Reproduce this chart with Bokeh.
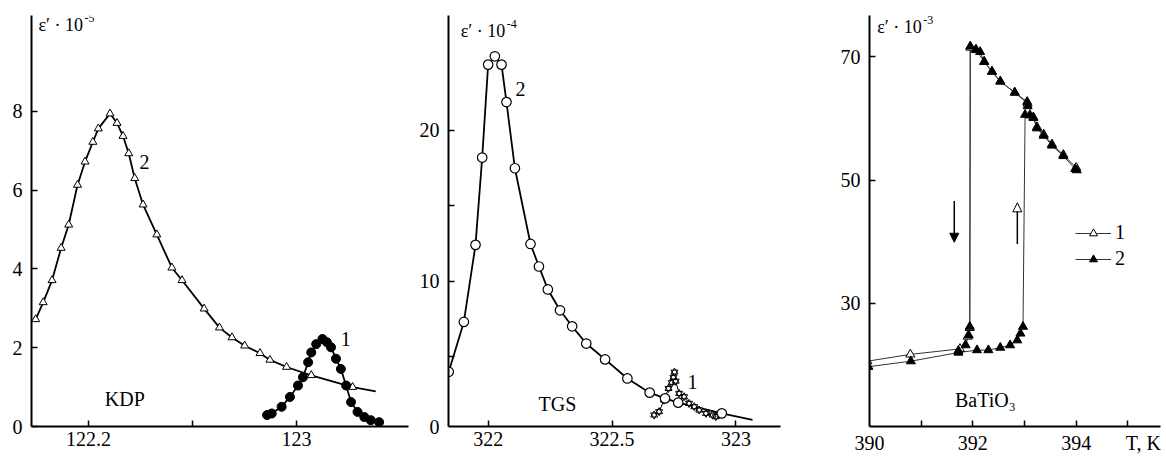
from bokeh.plotting import figure
from bokeh.layouts import row
from bokeh.models import (Range1d, FixedTicker, Label, Arrow, NormalHead, Legend,
                          LegendItem, CustomJSTickFormatter)
from bokeh.embed import file_html
from bokeh.resources import INLINE

# ---------------- data ----------------
# KDP, curve 2 (open triangles); last point only ends the line
kdp2_T = [121.997, 122.026, 122.060, 122.095, 122.124, 122.158, 122.187, 122.217, 122.238,
          122.283, 122.310, 122.333, 122.355, 122.378, 122.410, 122.463, 122.521, 122.560,
          122.645, 122.704, 122.752, 122.801, 122.860, 122.898, 122.962, 123.057, 123.216,
          123.305]
kdp2_e = [2.72, 3.15, 3.71, 4.53, 5.12, 6.13, 6.72, 7.22, 7.56,
          7.94, 7.70, 7.37, 6.93, 6.30, 5.63, 4.87, 4.03, 3.71,
          2.99, 2.51, 2.26, 2.05, 1.86, 1.69, 1.51, 1.30, 1.00,
          0.89]
# KDP, curve 1 (filled circles)
kdp1_T = [122.887, 122.905, 122.943, 122.975, 123.006, 123.025, 123.045, 123.057, 123.076,
          123.100, 123.117, 123.133, 123.152, 123.171, 123.191, 123.210, 123.235, 123.261,
          123.286, 123.318]
kdp1_e = [0.29, 0.33, 0.50, 0.75, 1.04, 1.25, 1.63, 1.88, 2.09,
          2.22, 2.14, 2.01, 1.72, 1.46, 1.04, 0.62, 0.37, 0.24,
          0.16, 0.11]

# TGS, curve 2 (open circles); last point only ends the line
tgs2_T = [321.841, 321.902, 321.949, 321.976, 322.000, 322.027, 322.054, 322.074, 322.108,
          322.171, 322.205, 322.241, 322.290, 322.339, 322.396, 322.472, 322.562, 322.652,
          322.714, 322.767, 322.943, 323.067]
tgs2_e = [4.02, 7.32, 12.42, 18.2, 24.35, 24.9, 24.35, 21.87, 17.49,
          12.48, 10.99, 9.47, 8.09, 7.03, 5.89, 4.84, 3.58, 2.64,
          2.26, 1.98, 1.27, 0.84]
# TGS, curve 1 (small triangles)
tgs1_T = [322.670, 322.690, 322.710, 322.728, 322.741, 322.748, 322.752, 322.757, 322.771,
          322.791, 322.811, 322.832, 322.852, 322.879, 322.906, 322.919]
tgs1_e = [1.16, 1.38, 2.15, 2.92, 3.30, 3.65, 4.00, 3.40, 2.59,
          2.37, 1.93, 1.71, 1.49, 1.27, 1.16, 1.05]

# BaTiO3, series 1 (open triangles, cooling run)
bt1_T = [394.00, 393.75, 393.53, 393.37, 393.24, 393.17, 393.06, 392.81, 392.53, 392.37,
         392.22, 392.06, 391.95, 391.94, 391.90, 391.75, 390.79, 389.96]
bt1_e = [52.0, 54.1, 55.8, 57.4, 58.6, 60.2, 62.4, 64.2, 66.0, 67.6,
         69.2, 71.1, 71.5, 26.0, 24.6, 22.6, 21.7, 20.6]
# BaTiO3, series 2 (filled triangles), heating run
bt2h_T = [389.98, 390.80, 391.72, 392.08, 392.30, 392.53, 392.72, 392.86, 392.92, 392.97,
          393.01, 393.10, 393.17, 393.24, 393.37, 393.53, 393.75, 393.98, 394.01]
bt2h_e = [19.7, 20.6, 22.0, 22.4, 22.4, 22.8, 23.2, 24.0, 25.1, 26.2,
          60.6, 60.5, 60.1, 58.4, 57.2, 55.6, 53.9, 51.8, 51.6]
# BaTiO3, series 2 (filled triangles), cooling run
bt2c_T = [393.06, 393.05, 392.81, 392.53, 392.37, 392.22, 392.14, 392.06, 391.95,
          391.94, 391.92, 391.86, 391.72]
bt2c_e = [62.0, 62.7, 64.2, 66.0, 67.6, 69.2, 70.8, 71.2, 71.7,
          26.2, 24.8, 23.2, 22.3]

# ticks (a major tick at the axis corner carries the "0" / "T, K" text)
kdp_xticks, kdp_xminor = [122.2, 123.0], [122.6]
kdp_yticks = [0, 2, 4, 6, 8]
tgs_xticks = [322.0, 322.5, 323.0]
tgs_yticks, tgs_yminor = [0.4, 10, 20], [5, 10, 15, 20]
bt_xticks, bt_xminor = [390, 392, 394, 395.3], [391, 392, 393, 394, 395]
bt_yticks = [30, 50, 70]

FONT = "Liberation Serif"
TICK_FS = "20px"

FMT = """
if (tick > 395.2 && tick < 395.4) return 'T, K';
if (tick > 0.3 && tick < 0.5) return '0';
return String(Math.round(tick*10)/10);
"""


def make_fig(width, xr, yr, left, right, top):
    p = figure(width=width, height=456, x_range=Range1d(*xr), y_range=Range1d(*yr),
               output_backend="svg", toolbar_location=None,
               min_border_left=left, min_border_right=right,
               min_border_top=top, min_border_bottom=28)
    p.grid.visible = False
    p.outline_line_color = None
    for ax in (p.xaxis[0], p.yaxis[0]):
        ax.axis_line_width = 2
        ax.axis_line_color = "black"
        ax.major_tick_in = 6
        ax.major_tick_out = 0
        ax.minor_tick_in = 6
        ax.minor_tick_out = 0
        ax.major_tick_line_width = 1.5
        ax.minor_tick_line_width = 1.5
        ax.major_tick_line_color = "black"
        ax.minor_tick_line_color = "black"
        ax.major_label_text_font = FONT
        ax.major_label_text_font_size = TICK_FS
        ax.major_label_text_color = "black"
        ax.formatter = CustomJSTickFormatter(code=FMT)
    p.xaxis.major_label_standoff = 5
    p.yaxis.major_label_standoff = 9
    return p


def lab(p, x, y, text, size="20px", align="center", baseline="middle", xo=0, yo=0):
    p.add_layout(Label(x=x, y=y, text=text, text_font=FONT, text_font_size=size,
                       text_align=align, text_baseline=baseline, x_offset=xo, y_offset=yo,
                       text_color="black"))


def ytitle(p, x, y, exp):
    lab(p, x, y, "ε′ · 10", size="18px", align="left")
    lab(p, x, y, exp, size="12px", align="left", xo=46, yo=7)


# ---------------- KDP ----------------
p1 = make_fig(410, (121.981, 123.431), (0, 10.43), 31, 2, 15)
p1.xaxis.ticker = FixedTicker(ticks=kdp_xticks, minor_ticks=kdp_xminor)
p1.yaxis.ticker = FixedTicker(ticks=kdp_yticks)
p1.line(kdp2_T, kdp2_e, line_color="black", line_width=1.8)
p1.scatter(kdp2_T[:-1], kdp2_e[:-1], marker="triangle", size=8, fill_color="white",
           line_color="black", line_width=1)
p1.line(kdp1_T, kdp1_e, line_color="black", line_width=1.8)
p1.scatter(kdp1_T, kdp1_e, marker="circle", size=9, fill_color="black", line_color="black")
lab(p1, 122.416, 6.72, "2")
lab(p1, 123.19, 2.22, "1")
lab(p1, 122.34, 0.71, "KDP")
ytitle(p1, 122.008, 10.18, "-5")

# ---------------- TGS ----------------
p2 = make_fig(380, (321.84, 323.18), (0.4, 27.6), 38, 10, 15)
p2.xaxis.ticker = FixedTicker(ticks=tgs_xticks)
p2.yaxis.ticker = FixedTicker(ticks=tgs_yticks, minor_ticks=tgs_yminor)
p2.yaxis.major_tick_in = 0
p2.line(tgs2_T, tgs2_e, line_color="black", line_width=1.8)
p2.line(tgs1_T, tgs1_e, line_color="black", line_width=1)
p2.scatter(tgs1_T, tgs1_e, marker="inverted_triangle", size=7, fill_color="white",
           line_color="black", line_width=1)
p2.scatter(tgs1_T, tgs1_e, marker="triangle", size=7, fill_color=None,
           line_color="black", line_width=1)
p2.scatter(tgs2_T[:-1], tgs2_e[:-1], marker="circle", size=9.5, fill_color="white",
           line_color="black", line_width=1.2)
lab(p2, 322.131, 22.76, "2")
lab(p2, 322.825, 3.35, "1")
lab(p2, 322.28, 1.89, "TGS")
ytitle(p2, 321.889, 26.6, "-4")

# ---------------- BaTiO3 ----------------
p3 = make_fig(376, (390, 395.63), (10, 76.7), 79, 6, 15)
p3.xaxis.ticker = FixedTicker(ticks=bt_xticks, minor_ticks=bt_xminor)
p3.yaxis.ticker = FixedTicker(ticks=bt_yticks)
p3.xaxis.major_tick_in = 0
l1 = p3.line(bt1_T, bt1_e, line_color="#333333", line_width=1)
l2h = p3.line(bt2h_T, bt2h_e, line_color="#333333", line_width=1)
p3.line(bt2c_T, bt2c_e, line_color="#333333", line_width=1)
s1 = p3.scatter(bt1_T, bt1_e, marker="triangle", size=9, fill_color="white",
                line_color="black", line_width=1)
s2 = p3.scatter(bt2h_T, bt2h_e, marker="triangle", size=9, fill_color="black",
                line_color="black")
p3.scatter(bt2c_T, bt2c_e, marker="triangle", size=9, fill_color="black", line_color="black")
p3.add_layout(Arrow(x_start=391.64, y_start=46.6, x_end=391.64, y_end=39.9,
                    line_width=1.5, line_color="black",
                    end=NormalHead(size=9, fill_color="black", line_color="black")))
p3.add_layout(Arrow(x_start=392.86, y_start=39.6, x_end=392.86, y_end=46.3,
                    line_width=1.5, line_color="black",
                    end=NormalHead(size=9, fill_color="white", line_color="black")))
lab(p3, 392.24, 14.35, "BaTiO₃")
ytitle(p3, 390.15, 74.8, "-3")

legend = Legend(items=[LegendItem(label="1", renderers=[l1, s1]),
                       LegendItem(label="2", renderers=[l2h, s2])],
                location=(206, 156), orientation="vertical",
                glyph_width=36, glyph_height=20, spacing=3, padding=0, margin=0,
                label_standoff=4, label_text_font=FONT, label_text_font_size="20px",
                label_text_color="black", background_fill_alpha=0, border_line_color=None)
p3.add_layout(legend)

layout = row(p1, p2, p3, spacing=0)
open("out.html", "w").write(file_html(layout, INLINE))
